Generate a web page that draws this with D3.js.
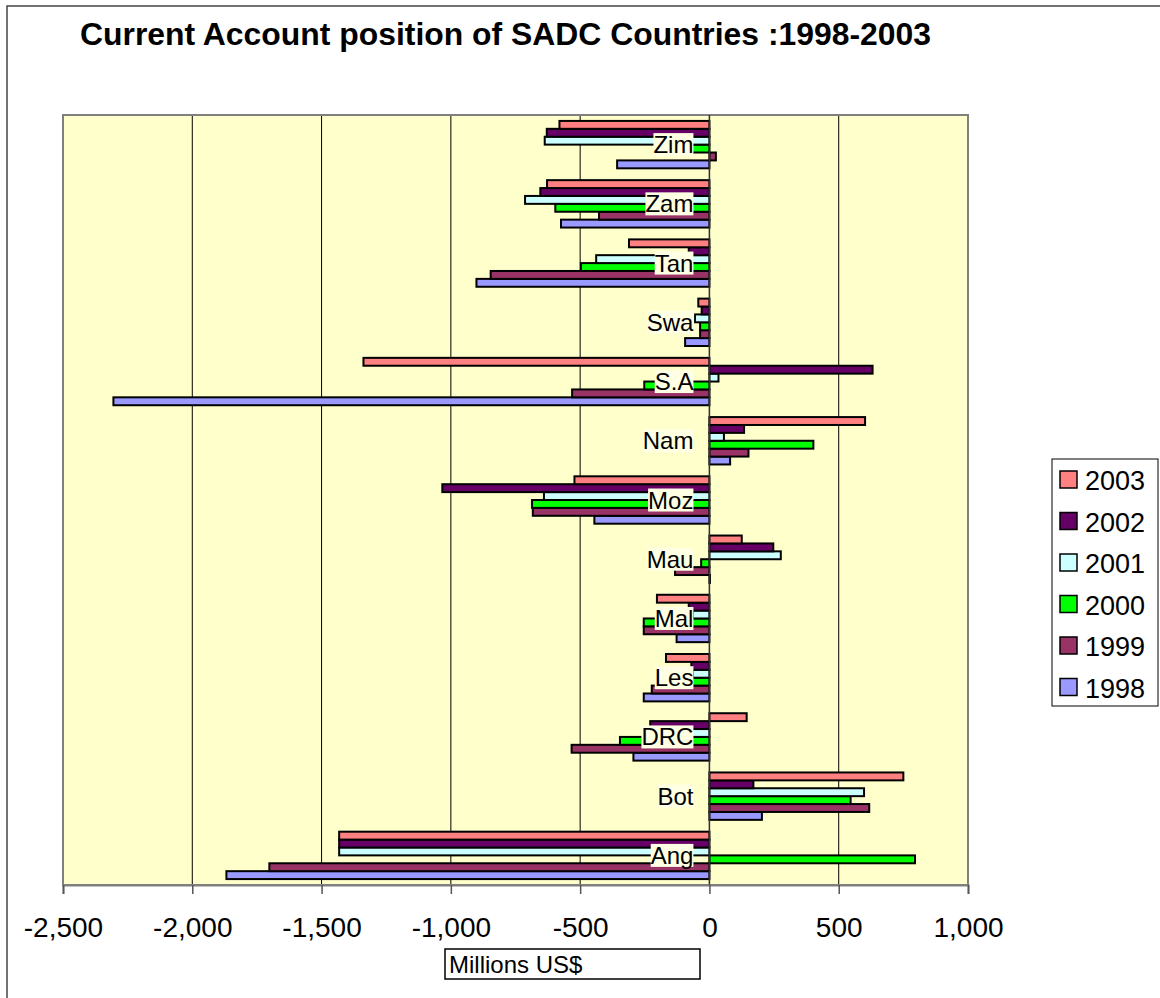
<!DOCTYPE html>
<html>
<head>
<meta charset="utf-8">
<script src="https://cdn.jsdelivr.net/npm/d3@7"></script>
<style>
  html, body { margin: 0; padding: 0; background: #fff; }
  svg { display: block; font-family: "Liberation Sans", Arial, sans-serif; }
</style>
</head>
<body>
<svg id="chart" width="1160" height="998"></svg>
<script>
// ---- data ----
const categories = ["Ang", "Bot", "DRC", "Les", "Mal", "Mau", "Moz", "Nam", "S.A", "Swa", "Tan", "Zam", "Zim"];
const years = ["1998", "1999", "2000", "2001", "2002", "2003"];
const v1998 = [-1868, 203, -294, -254, -127, 2, -445, 80, -2305, -94, -901, -574, -357];
const v1999 = [-1702, 618, -533, -223, -254, -133, -683, 151, -531, -36, -846, -427, 25];
const v2000 = [795, 546, -346, -70, -254, -32, -686, 402, -252, -36, -497, -596, -100];
const v2001 = [-1432, 598, -100, -65, -65, 276, -640, 56, 35, -56, -438, -713, -637];
const v2002 = [-1432, 170, -229, -70, -80, 247, -1033, 134, 631, -30, -80, -654, -629];
const v2003 = [-1432, 750, 144, -168, -203, 125, -522, 602, -1338, -43, -311, -628, -580];
const xTicks = [-2500, -2000, -1500, -1000, -500, 0, 500, 1000];
const colors = ["#9999FF", "#993366", "#00FF00", "#CCFFFF", "#660066", "#FF8080"];
const titleText = "Current Account position of SADC Countries :1998-2003";
const axisTitle = "Millions US$";

const seriesValues = [v1998, v1999, v2000, v2001, v2002, v2003];

const svg = d3.select("#chart");
const font = '"Liberation Sans", Arial, sans-serif';

// outer frame
svg.append("rect").attr("x", 7).attr("y", 6).attr("width", 1200).attr("height", 1100)
  .attr("fill", "#fff").attr("stroke", "#444").attr("stroke-width", 1.5);

// plot area
const plot = { left: 63, right: 968, top: 115, bottom: 885 };
const x = d3.scaleLinear().domain([-2500, 1000]).range([plot.left, plot.right]);
const y = d3.scaleBand().domain(categories.slice().reverse())
  .range([plot.top, plot.bottom]).paddingInner(0.2).paddingOuter(0.1);
// within group: 2003 on top, 1998 at bottom
const ySub = d3.scaleBand().domain(years.slice().reverse()).range([0, y.bandwidth()]);

svg.append("rect").attr("x", plot.left).attr("y", plot.top)
  .attr("width", plot.right - plot.left).attr("height", plot.bottom - plot.top)
  .attr("fill", "#FFFFCC");

// gridlines
svg.append("g").selectAll("line").data(xTicks.filter(t => t > -2500 && t < 1000))
  .join("line")
  .attr("x1", d => x(d)).attr("x2", d => x(d))
  .attr("y1", plot.top).attr("y2", plot.bottom)
  .attr("stroke", "#000").attr("stroke-width", 1);

// plot border
svg.append("rect").attr("x", plot.left).attr("y", plot.top)
  .attr("width", plot.right - plot.left).attr("height", plot.bottom - plot.top)
  .attr("fill", "none").attr("stroke", "#808080").attr("stroke-width", 2);

// bars
const gBars = svg.append("g");
years.forEach((yr, si) => {
  gBars.append("g").selectAll("rect")
    .data(categories.map((c, i) => ({ c, v: seriesValues[si][i] })))
    .join("rect")
    .attr("x", d => Math.min(x(0), x(d.v)))
    .attr("width", d => Math.abs(x(d.v) - x(0)))
    .attr("y", d => y(d.c) + ySub(yr))
    .attr("height", ySub.bandwidth())
    .attr("fill", colors[si])
    .attr("stroke", "#000").attr("stroke-width", 2);
});

// category axis line at zero
svg.append("line").attr("x1", x(0)).attr("x2", x(0))
  .attr("y1", plot.top).attr("y2", plot.bottom)
  .attr("stroke", "#333").attr("stroke-width", 1.5);

// category labels next to axis at zero
const labG = svg.append("g");
categories.forEach(c => {
  const cy = y(c) + y.bandwidth() / 2;
  const g = labG.append("g");
  const t = g.append("text")
    .attr("x", x(0) - 16).attr("y", cy + 8.5)
    .attr("text-anchor", "end")
    .attr("font-size", 24).attr("fill", "#000").text(c);
  const bb = t.node().getBBox();
  g.insert("rect", "text").attr("x", bb.x).attr("y", cy - 11.5)
    .attr("width", bb.width).attr("height", 23).attr("fill", "#FFFFE4");
});

// x axis
const fmt = d3.formatLocale({ decimal: ".", thousands: ",", grouping: [3], currency: ["$", ""], minus: "-" }).format(",");
const xAxis = d3.axisBottom(x).tickValues(xTicks).tickSize(9).tickFormat(fmt);
const ga = svg.append("g").attr("transform", `translate(0,${plot.bottom})`).call(xAxis);
ga.select(".domain").attr("stroke", "#808080").attr("stroke-width", 2);
ga.selectAll(".tick line").attr("stroke", "#555").attr("stroke-width", 1.5);
ga.selectAll(".tick text").attr("font-size", 28).attr("font-family", font)
  .attr("fill", "#000").attr("dy", null).attr("y", 52);

// axis title box
svg.append("rect").attr("x", 445).attr("y", 949).attr("width", 255).attr("height", 30)
  .attr("fill", "#fff").attr("stroke", "#000").attr("stroke-width", 1.5);
svg.append("text").attr("x", 449).attr("y", 973).attr("font-size", 24).attr("fill", "#000").text(axisTitle);

// title
svg.append("text").attr("x", 80).attr("y", 45).attr("font-size", 31).attr("font-weight", "bold")
  .attr("textLength", 851).attr("lengthAdjust", "spacingAndGlyphs")
  .attr("fill", "#000").text(titleText);

// legend
const leg = svg.append("g");
leg.append("rect").attr("x", 1052).attr("y", 459).attr("width", 106).attr("height", 247)
  .attr("fill", "#fff").attr("stroke", "#000").attr("stroke-width", 1);
const legOrder = years.map((yr, i) => ({ yr, c: colors[i] })).reverse();
const legY = d3.scalePoint().domain(legOrder.map(d => d.yr)).range([480, 687.5]);
legOrder.forEach(d => {
  leg.append("rect").attr("x", 1060).attr("y", legY(d.yr) - 9).attr("width", 17).attr("height", 17)
    .attr("fill", d.c).attr("stroke", "#000").attr("stroke-width", 1.5);
  leg.append("text").attr("x", 1085).attr("y", legY(d.yr) + 10).attr("font-size", 27)
    .attr("fill", "#000").text(d.yr);
});
</script>
</body>
</html>
